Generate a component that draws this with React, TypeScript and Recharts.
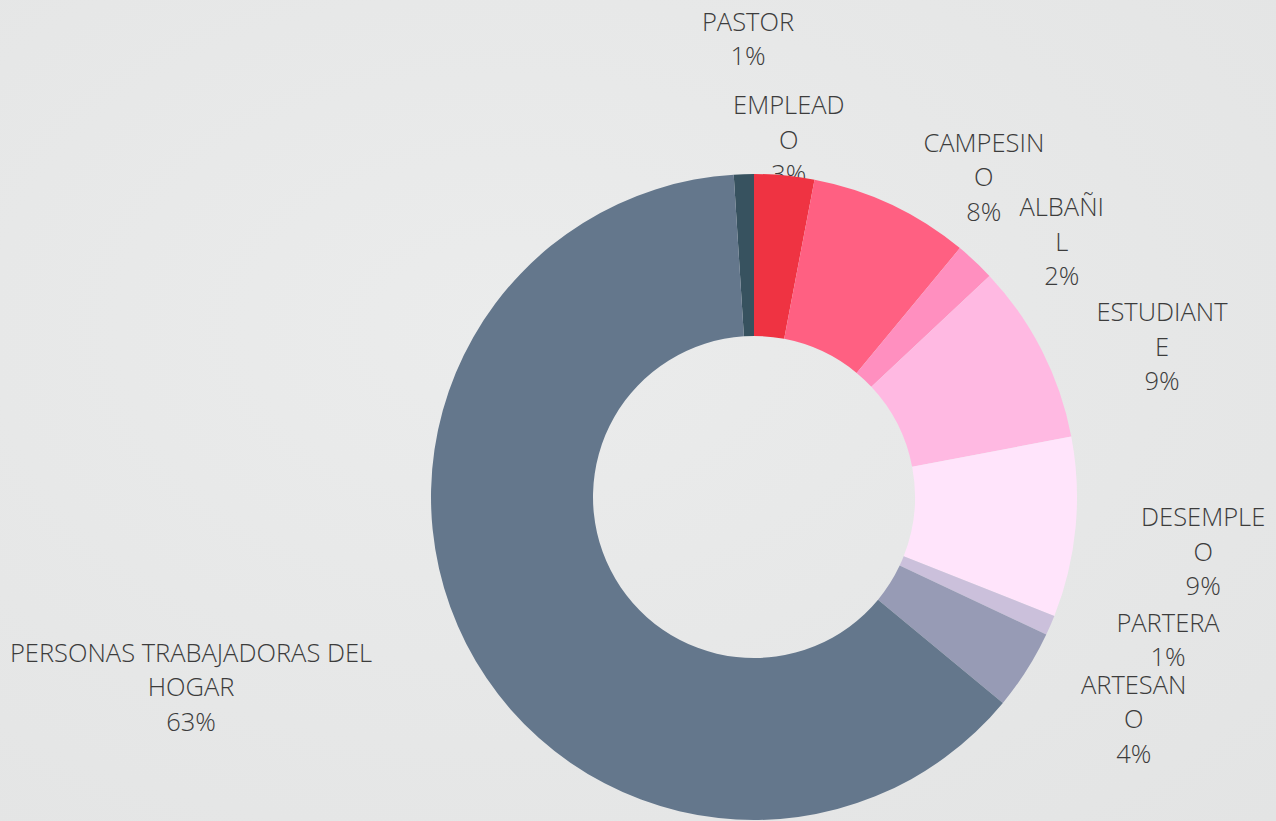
import React from "react";
import { PieChart, Pie, Cell } from "recharts";

const categories = [
  "PASTOR",
  "EMPLEADO",
  "CAMPESINO",
  "ALBAÑIL",
  "ESTUDIANTE",
  "DESEMPLEO",
  "PARTERA",
  "ARTESANO",
  "PERSONAS TRABAJADORAS DEL HOGAR",
];
const percentages = [1, 3, 8, 2, 9, 9, 1, 4, 63];
const labelLines = [
  ["PASTOR"],
  ["EMPLEAD", "O"],
  ["CAMPESIN", "O"],
  ["ALBAÑI", "L"],
  ["ESTUDIANT", "E"],
  ["DESEMPLE", "O"],
  ["PARTERA"],
  ["ARTESAN", "O"],
  ["PERSONAS TRABAJADORAS DEL", "HOGAR"],
];
const colors = [
  "#37525f",
  "#ef3342",
  "#ff6082",
  "#ff8fbf",
  "#ffb9e2",
  "#ffe4fb",
  "#cbc0db",
  "#979bb5",
  "#64778c",
];
// layout nudges for the label texts (Excel-style manual placement)
const labelNudge = [
  [7, -45],
  [-4, 54],
  [54, 54],
  [25, 46],
  [40, 37],
  [38, 16],
  [35, -21],
  [31, 1],
  [-195, 3],
];

const data = categories.map((name, i) => ({ name, value: percentages[i] }));

const RAD = Math.PI / 180;
const LH = 34.5;
const FS = 25.5;

function renderLabel(props: any) {
  const { cx, cy, midAngle, outerRadius, index } = props;
  const r = outerRadius + 90;
  const x = cx + r * Math.cos(-midAngle * RAD) + labelNudge[index][0];
  const y = cy + r * Math.sin(-midAngle * RAD) + labelNudge[index][1];
  const lines = [...labelLines[index], `${percentages[index]}%`];
  const y0 = y - ((lines.length - 1) * LH) / 2 + 9;
  return (
    <text
      key={`lbl-${index}`}
      x={x}
      y={y0}
      textAnchor="middle"
      fill="#3c3c3c"
      fontFamily="'Open Sans', sans-serif"
      fontSize={FS}
      fontWeight={300}
    >
      {lines.map((l, i) => (
        <tspan key={i} x={x} dy={i === 0 ? 0 : LH}>
          {l}
        </tspan>
      ))}
    </text>
  );
}

const layer: React.CSSProperties = { position: "absolute", left: 0, top: 0 };

export default function App() {
  return (
    <div
      style={{
        position: "absolute",
        left: 0,
        top: 0,
        width: 1276,
        height: 821,
        overflow: "hidden",
        background: "radial-gradient(ellipse at 40% 40%, #ebecec 0%, #e6e7e7 60%, #e3e4e4 100%)",
      }}
    >
      <div style={layer}>
        <PieChart width={1276} height={821} margin={{ top: 0, right: 0, bottom: 0, left: 0 }}>
          <Pie
            data={data}
            dataKey="value"
            nameKey="name"
            cx={754}
            cy={497}
            innerRadius={161}
            outerRadius={323}
            startAngle={93.6}
            endAngle={-266.4}
            fill="transparent"
            stroke="none"
            label={renderLabel}
            labelLine={false}
            isAnimationActive={false}
          >
            {data.map((d, i) => (
              <Cell key={`t-${i}`} fill="transparent" stroke="none" />
            ))}
          </Pie>
        </PieChart>
      </div>
      <div style={layer}>
        <PieChart width={1276} height={821} margin={{ top: 0, right: 0, bottom: 0, left: 0 }}>
          <Pie
            data={data}
            dataKey="value"
            nameKey="name"
            cx={754}
            cy={497}
            innerRadius={161}
            outerRadius={323}
            startAngle={93.6}
            endAngle={-266.4}
            stroke="none"
            isAnimationActive={false}
          >
            {data.map((d, i) => (
              <Cell key={`c-${i}`} fill={colors[i]} stroke="none" />
            ))}
          </Pie>
        </PieChart>
      </div>
    </div>
  );
}
